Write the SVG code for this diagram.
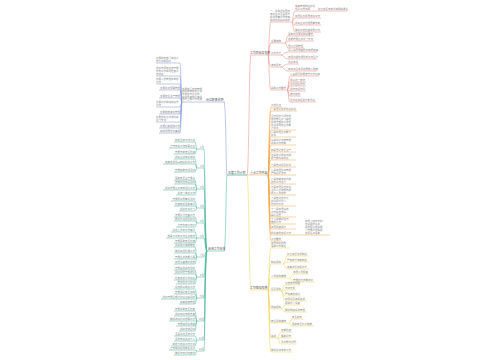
<svg xmlns="http://www.w3.org/2000/svg" width="500" height="360" viewBox="0 0 500 360">
<style>
text{font-family:"Noto Sans CJK SC","Noto Sans",sans-serif;font-size:2.5px;fill:#8c8c8c}
.n{font-size:2.9px;fill:#555}
.e{text-anchor:end}
path{fill:none;stroke-width:.5}
.r{stroke:#e9857c}.b{stroke:#7f90d6}.t{stroke:#3fb595}.o{stroke:#f2a444}.y{stroke:#f0d048}.k{stroke:#3aa88c;stroke-width:.7}
</style>
<rect width="500" height="360" fill="#fff"/>
<g id="connectors">
<path class="r" d="M247,175C249,175 249,55 251,55"/>
<path class="o" d="M247,175H250"/>
<path class="y" d="M247,175C249,175 249,290 251,290"/>
<path class="b" d="M227,175C226,175 226,102 224,102"/>
<path class="t" d="M227,175C226,175 226,251 224,251"/>
<path class="r" d="M268,55C269,55 269,22 271,22M268,55C269,55 269,43 271,43M268,55H271M268,55C269,55 269,67 271,67M268,55C269,55 269,90 271,90"/>
<path class="r" d="M292,22C293,22 293,11 295,11M292,22C293,22 293,18 295,18M292,22C293,22 293,25 295,25M292,22C293,22 293,32 295,32M315,11H318"/>
<path class="r" d="M285,43C286.5,43 286.5,36 288,36M285,43C286.5,43 286.5,41 288,41M285,43C286.5,43 286.5,48 288,48"/>
<path class="r" d="M281,55C284,55 284,52 288,52M281,55C284,55 284,59 288,59M281,67C284,67 284,64 288,64M281,67C284,67 284,71 288,71"/>
<path class="r" d="M287,90C288.5,90 288.5,76 290,76M287,90C288.5,90 288.5,82 290,82M287,90C288.5,90 288.5,86 290,86M287,90C288.5,90 288.5,91 290,91M287,90C288.5,90 288.5,96 290,96M287,90C288.5,90 288.5,102 290,102"/>
<path class="b" d="M205,102H204M182,102C181,102 181,63 180,63M182,102C181,102 181,76 180,76M182,102C181,102 181,84 180,84M182,102C181,102 181,90 180,90M182,102C181,102 181,98 180,98M182,102C181,102 181,107 180,107M182,102C181,102 181,114 180,114M182,102C181,102 181,122 180,122M182,102C181,102 181,128 180,128M182,102C181,102 181,133 180,133"/>
<path class="t" d="M207,251C205,251 205,149 204,149M207,251C205,251 205,168 204,168M207,251C205,251 205,189 204,189M207,251C205,251 205,208 204,208M207,251C205,251 205,223 204,223M207,251C205,251 205,238 204,238M207,251C205,251 205,257 204,257M207,251C205,251 205,277 204,277M207,251C205,251 205,298 204,298M207,251C205,251 205,321 204,321M207,251C205,251 205,340 204,340M207,251C205,251 205,351 204,351"/>
<path class="t" d="M197,149C196,149 196,142 195,142M197,149C196,149 196,148 195,148M197,149C196,149 196,154 195,154M197,168C196,168 196,159 195,159M197,168C196,168 196,164 195,164M197,168C196,168 196,172 195,172M197,189C196,189 196,180 195,180M197,189C196,189 196,184 195,184M197,189C196,189 196,190 195,190M197,189C196,189 196,195 195,195M197,208C196,208 196,201 195,201M197,208C196,208 196,206 195,206M197,208C196,208 196,211 195,211M197,223C196,223 196,217 195,217M197,223C196,223 196,221 195,221M197,223C196,223 196,227 195,227M197,238C196,238 196,232 195,232M197,238C196,238 196,238 195,238M197,238C196,238 196,243 195,243"/>
<path class="t" d="M197,257C196,257 196,247 195,247M197,257C196,257 196,253 195,253M197,257C196,257 196,259 195,259M197,257C196,257 196,264 195,264M197,277C196,277 196,270 195,270M197,277C196,277 196,274 195,274M197,277C196,277 196,280 195,280M197,277C196,277 196,284 195,284M197,298C196,298 196,289 195,289M197,298C196,298 196,294 195,294M197,298C196,298 196,299 195,299M197,298C196,298 196,304 195,304M197,321C196,321 196,311 195,311M197,321C196,321 196,316 195,316M197,321C196,321 196,321 195,321M197,321C196,321 196,326 195,326M197,321C196,321 196,331 195,331M197,340C196,340 196,336 195,336M197,340C196,340 196,341 195,341M197,340C196,340 196,346 195,346M197,351C196,351 196,350 195,350M197,351C196,351 196,355 195,355"/>
<path class="o" d="M268,175C269,175 269,107 271,107M268,175C269,175 269,111 271,111M268,175C269,175 269,130 271,130M268,175C269,175 269,137 271,137M268,175C269,175 269,145 271,145M268,175C269,175 269,152 271,152M268,175C269,175 269,160 271,160M268,175C269,175 269,167 271,167M268,175H271M268,175C269,175 269,184 271,184M268,175C269,175 269,195 271,195M268,175C269,175 269,206 271,206M268,175C269,175 269,217 271,217M268,175C269,175 269,224 271,224M268,175C269,175 269,229 271,229M268,175C269,175 269,235 271,235M268,175C269,175 269,241 271,241M296,235H305"/>
<path class="y" d="M268,290C269,290 269,248 271,248M268,290C269,290 269,264 271,264M268,290C269,290 269,278 271,278M268,290C269,290 269,291 271,291M268,290C269,290 269,309 271,309M268,290C269,290 269,323 271,323M268,290C269,290 269,338 271,338M268,290C269,290 269,352 271,352"/>
<path class="y" d="M283,264C285,264 285,256 287,256M283,264C285,264 285,262 287,262M283,264C285,264 285,269 287,269M290,278C291.5,278 291.5,274 293,274M290,278C291.5,278 291.5,282 293,282M281,291C283,291 283,285 285,285M281,291C283,291 283,290 285,290M281,291C283,291 283,296 285,296M281,291C283,291 283,301 285,301M281,309C283,309 283,305 285,305M281,309C283,309 283,312 285,312M289,323C290.5,323 290.5,319 292,319M289,323C290.5,323 290.5,326 292,326M277,338C279,338 279,332 281,332M277,338C279,338 279,338 281,338M277,338C279,338 279,344 281,344"/>
</g>
<g id="root"><text class="n" x="228" y="174">年度工作计划</text><path class="k" d="M227,175H247"/></g>
<g id="red">
<g id="r0"><text class="n" x="250" y="54">工作目标及措施</text><path class="r" d="M250,55H268"/></g>
<g id="ra"><text x="270" y="12.4">一、总体目标围绕</text><text x="270" y="15.3">年度任务全面提升</text><text x="270" y="18.2">服务质量工作效率</text><text x="270" y="21.1">确保各项指标完成</text><path class="r" d="M270,22H292"/></g>
<g id="ra1"><text x="295" y="7.1">完善管理制度建设</text><text x="295" y="10">规范工作流程</text><path class="r" d="M295,11H315"/></g>
<g id="ra1a"><text x="318" y="10.1">建立健全考核机制明确责任</text><path class="r" d="M318,11H347"/></g>
<g id="ra2"><text x="295" y="17.1">加强队伍素质培训工作</text><path class="r" d="M295,18H321"/></g>
<g id="ra3"><text x="295" y="24.1">提高业务办理质量效率</text><path class="r" d="M295,25H321"/></g>
<g id="ra4"><text x="295" y="31.1">做好日常检查督导工作</text><path class="r" d="M295,32H321"/></g>
<g id="rb"><text x="271" y="42.1">主要措施</text><path class="r" d="M271,43H285"/></g>
<g id="rb1"><text x="288" y="35.1">落实岗位责任制度要求</text><path class="r" d="M288,36H314"/></g>
<g id="rb2"><text x="288" y="40.1">定期开展业务学习交流</text><path class="r" d="M288,41H314"/></g>
<g id="rb3"><text x="288" y="47.1">强化过程管理</text><path class="r" d="M288,48H304"/></g>
<g id="rc"><text x="271" y="54.1">工作方法</text><path class="r" d="M271,55H281"/></g>
<g id="rc1"><text x="288" y="51.1">深入基层调查研究掌握实情</text><path class="r" d="M288,52H317"/></g>
<g id="rc2"><text x="288" y="58.1">加强沟通协调形成工作合力</text><path class="r" d="M288,59H317"/></g>
<g id="rd"><text x="271" y="66.1">考核评价</text><path class="r" d="M271,67H281"/></g>
<g id="rd1"><text x="288" y="63.1">月度考评</text><path class="r" d="M288,64H299"/></g>
<g id="rd2"><text x="288" y="70.1">年终综合考评结果纳入档案</text><path class="r" d="M288,71H317"/></g>
<g id="re"><text x="271" y="89.1">具体工作要求</text><path class="r" d="M271,90H287"/></g>
<g id="re1"><text x="290" y="75.1">认真履行职责遵守工作纪律</text><path class="r" d="M290,76H319"/></g>
<g id="re2"><text x="290" y="81.1">服从统一安排</text><path class="r" d="M290,82H306"/></g>
<g id="re3"><text x="290" y="85.1">注重团队协作</text><path class="r" d="M290,86H306"/></g>
<g id="re4"><text x="290" y="90.1">保持良好作风</text><path class="r" d="M290,91H306"/></g>
<g id="re5"><text x="290" y="95.1">按时完成</text><path class="r" d="M290,96H301"/></g>
<g id="re6"><text x="290" y="101.1">及时总结经验不断改进</text><path class="r" d="M290,102H316"/></g>
</g>
<g id="blue">
<g id="b0"><text class="n" x="206" y="101">岗位职责说明</text><path class="b" d="M205,102H225"/></g>
<g id="bk"><text x="182" y="89.5">负责部门日常管理</text><text x="182" y="92.2">组织实施年度计划</text><text x="182" y="94.9">协调各岗位工作</text><text x="182" y="97.6">监督检查执行情况</text><text x="182" y="100.3">及时上报工作进展</text><path class="b" d="M182,102H204"/></g>
<g id="b1"><text x="156" y="59.1">负责制定部门年度工</text><text x="156" y="62">作计划和目标</text><path class="b" d="M156,63H180"/></g>
<g id="b2"><text x="156" y="69.2">组织协调各科室开展</text><text x="156" y="72.1">日常工作督促检查工</text><text x="156" y="75">作进度</text><path class="b" d="M156,76H180"/></g>
<g id="b3"><text x="156" y="80.1">负责人员管理和考核</text><text x="156" y="83">工作</text><path class="b" d="M156,84H180"/></g>
<g id="b4"><text class="e" x="180" y="89.1">负责财务预算管理</text><path class="b" d="M159,90H180"/></g>
<g id="b5"><text class="e" x="180" y="97.1">负责安全生产管理</text><path class="b" d="M159,98H180"/></g>
<g id="b6"><text x="156" y="103.1">负责对外联络和接待</text><text x="156" y="106">工作</text><path class="b" d="M156,107H180"/></g>
<g id="b7"><text class="e" x="180" y="113.1">负责档案资料管理</text><path class="b" d="M159,114H180"/></g>
<g id="b8"><text x="156" y="118.1">负责组织业务培训和</text><text x="156" y="121">学习交流</text><path class="b" d="M156,122H180"/></g>
<g id="b9"><text class="e" x="180" y="127.1">负责后勤保障工作</text><path class="b" d="M159,128H180"/></g>
<g id="b10"><text class="e" x="180" y="132.1">完成领导交办事项</text><path class="b" d="M159,133H180"/></g>
</g>
<g id="teal">
<g id="t0"><text class="n" x="208" y="250">具体工作安排</text><path class="t" d="M207,251H225"/></g>
<g id="m1"><text class="e" x="204" y="148.1">1月</text><path class="t" d="M197,149H204"/></g>
<g id="m2"><text class="e" x="204" y="167.1">2月</text><path class="t" d="M197,168H204"/></g>
<g id="m3"><text class="e" x="204" y="188.1">3月</text><path class="t" d="M197,189H204"/></g>
<g id="m4"><text class="e" x="204" y="207.1">4月</text><path class="t" d="M197,208H204"/></g>
<g id="m5"><text class="e" x="204" y="222.1">5月</text><path class="t" d="M197,223H204"/></g>
<g id="m6"><text class="e" x="204" y="237.1">6月</text><path class="t" d="M197,238H204"/></g>
<g id="m7"><text class="e" x="204" y="256.1">7月</text><path class="t" d="M197,257H204"/></g>
<g id="m8"><text class="e" x="204" y="276.1">8月</text><path class="t" d="M197,277H204"/></g>
<g id="m9"><text class="e" x="204" y="297.1">9月</text><path class="t" d="M197,298H204"/></g>
<g id="m10"><text class="e" x="204" y="320.1">10月</text><path class="t" d="M197,321H204"/></g>
<g id="m11"><text class="e" x="204" y="339.1">11月</text><path class="t" d="M197,340H204"/></g>
<g id="m12"><text class="e" x="204" y="350.1">12月</text><path class="t" d="M197,351H204"/></g>
<g id="t1a"><text class="e" x="195" y="141.1">制定全年工作计划</text><path class="t" d="M174,142H195"/></g>
<g id="t1b"><text class="e" x="195" y="147.1">召开年度工作部署会议</text><path class="t" d="M169,148H195"/></g>
<g id="t1c"><text class="e" x="195" y="153.1">开展节前安全检查</text><path class="t" d="M174,154H195"/></g>
<g id="t2a"><text class="e" x="195" y="158.1">组织业务知识培训</text><path class="t" d="M174,159H195"/></g>
<g id="t2b"><text class="e" x="195" y="163.1">完善各项规章制度建设工作</text><path class="t" d="M163,164H195"/></g>
<g id="t2c"><text class="e" x="195" y="171.1">开展春季专项活动</text><path class="t" d="M174,172H195"/></g>
<g id="t3a"><text class="e" x="195" y="179.1">落实安全生产责任</text><path class="t" d="M174,180H195"/></g>
<g id="t3b"><text class="e" x="195" y="183.1">开展岗位练兵活动</text><path class="t" d="M174,184H195"/></g>
<g id="t3c"><text class="e" x="195" y="189.1">组织开展业务考核评比工作</text><path class="t" d="M163,190H195"/></g>
<g id="t3d"><text class="e" x="195" y="194.1">总结一季度工作</text><path class="t" d="M176,195H195"/></g>
<g id="t4a"><text class="e" x="195" y="200.1">开展服务质量月活动</text><path class="t" d="M171,201H195"/></g>
<g id="t4b"><text class="e" x="195" y="205.1">检查制度落实情况</text><path class="t" d="M174,206H195"/></g>
<g id="t4c"><text class="e" x="195" y="210.1">组织外出学习</text><path class="t" d="M179,211H195"/></g>
<g id="t5a"><text class="e" x="195" y="216.1">开展防汛准备工作</text><path class="t" d="M174,217H195"/></g>
<g id="t5b"><text class="e" x="195" y="220.1">推进重点项目建设</text><path class="t" d="M174,221H195"/></g>
<g id="t5c"><text class="e" x="195" y="226.1">召开半年工作会</text><path class="t" d="M176,227H195"/></g>
<g id="t6a"><text class="e" x="195" y="231.1">总结上半年工作情况</text><path class="t" d="M171,232H195"/></g>
<g id="t6b"><text class="e" x="195" y="237.1">部署下半年工作任务安排</text><path class="t" d="M166,238H195"/></g>
<g id="t6c"><text class="e" x="195" y="242.1">开展夏季安全检查</text><path class="t" d="M174,243H195"/></g>
<g id="t7a"><text class="e" x="195" y="246.1">组织职工健康体检</text><path class="t" d="M174,247H195"/></g>
<g id="t7b"><text class="e" x="195" y="252.1">做好高温防暑工作</text><path class="t" d="M174,253H195"/></g>
<g id="t7c"><text class="e" x="195" y="258.1">开展业务技能竞赛</text><path class="t" d="M174,259H195"/></g>
<g id="t7d"><text class="e" x="195" y="263.1">加强设备维护保养</text><path class="t" d="M174,264H195"/></g>
<g id="t8a"><text class="e" x="195" y="269.1">开展廉政教育活动</text><path class="t" d="M174,270H195"/></g>
<g id="t8b"><text class="e" x="195" y="273.1">组织中层干部培训</text><path class="t" d="M174,274H195"/></g>
<g id="t8c"><text class="e" x="195" y="279.1">检查各项工作进度</text><path class="t" d="M174,280H195"/></g>
<g id="t8d"><text class="e" x="195" y="283.1">推进信息化建设</text><path class="t" d="M176,284H195"/></g>
<g id="t9a"><text class="e" x="195" y="288.1">总结前三季度工作</text><path class="t" d="M174,289H195"/></g>
<g id="t9b"><text class="e" x="195" y="293.1">开展消防安全演练</text><path class="t" d="M174,294H195"/></g>
<g id="t9c"><text class="e" x="195" y="298.1">组织开展合理化建议征集活动</text><path class="t" d="M161,299H195"/></g>
<g id="t9d"><text class="e" x="195" y="303.1">完善档案管理</text><path class="t" d="M179,304H195"/></g>
<g id="t10a"><text class="e" x="195" y="310.1">开展冬季安全检查</text><path class="t" d="M174,311H195"/></g>
<g id="t10b"><text class="e" x="195" y="315.1">组织年度考核准备</text><path class="t" d="M174,316H195"/></g>
<g id="t10c"><text class="e" x="195" y="320.1">做好年终财务结算工作</text><path class="t" d="M169,321H195"/></g>
<g id="t10d"><text class="e" x="195" y="325.1">开展满意度调查</text><path class="t" d="M176,326H195"/></g>
<g id="t10e"><text class="e" x="195" y="330.1">组织文体活动</text><path class="t" d="M179,331H195"/></g>
<g id="t11a"><text class="e" x="195" y="335.1">全面总结全年工作</text><path class="t" d="M174,336H195"/></g>
<g id="t11b"><text class="e" x="195" y="340.1">评选年度先进个人</text><path class="t" d="M174,341H195"/></g>
<g id="t11c"><text class="e" x="195" y="345.1">制定下年度工作计划</text><path class="t" d="M171,346H195"/></g>
<g id="t12a"><text class="e" x="195" y="349.1">召开年终总结表彰大会</text><path class="t" d="M169,350H195"/></g>
<g id="t12b"><text class="e" x="195" y="354.1">做好节日值班安排</text><path class="t" d="M174,355H195"/></g>
</g>
<g id="orange">
<g id="o0"><text class="n" x="250" y="174">重点工作内容</text><path class="o" d="M250,175H268"/></g>
<g id="o1"><text x="271" y="106.1">工作重点</text><path class="o" d="M271,107H282"/></g>
<g id="o2"><text x="271" y="110.1">一是强化思想政治建设</text><path class="o" d="M271,111H297"/></g>
<g id="o3"><text x="271" y="117.4">坚持党建引领作用</text><text x="271" y="120.3">加强理论学习教育</text><text x="271" y="123.2">提高干部职工思想</text><text x="271" y="126.1">政治素质和业务能</text><text x="271" y="129">力水平</text><path class="o" d="M271,130H296"/></g>
<g id="o4"><text x="271" y="133.1">二是加强业务能力</text><text x="271" y="136">建设</text><path class="o" d="M271,137H296"/></g>
<g id="o5"><text x="271" y="141.1">三是规范内部管理</text><text x="271" y="144">提高工作效率</text><path class="o" d="M271,145H296"/></g>
<g id="o6"><text x="271" y="151.1">四是强化安全生产</text><path class="o" d="M271,152H296"/></g>
<g id="o7"><text x="271" y="156.1">五是优化服务流程</text><text x="271" y="159">提升群众满意度</text><path class="o" d="M271,160H296"/></g>
<g id="o8"><text x="271" y="166.1">六是推进项目建设</text><path class="o" d="M271,167H296"/></g>
<g id="o9"><text x="271" y="171.1">七是加强财务管理</text><text x="271" y="174">严格经费支出</text><path class="o" d="M271,175H296"/></g>
<g id="o10"><text x="271" y="180.1">八是完善考核机制</text><text x="271" y="183">激发工作活力</text><path class="o" d="M271,184H296"/></g>
<g id="o11"><text x="271" y="188.2">九是加强队伍建设</text><text x="271" y="191.1">注重人才培养选拔</text><text x="271" y="194">优化人员结构</text><path class="o" d="M271,195H296"/></g>
<g id="o12"><text x="271" y="199.2">十是推进信息化</text><text x="271" y="202.1">建设提升办公</text><text x="271" y="205">自动化水平</text><path class="o" d="M271,206H296"/></g>
<g id="o13"><text x="271" y="210.2">十一是加强宣传</text><text x="271" y="213.1">工作营造良好</text><text x="271" y="216">舆论氛围</text><path class="o" d="M271,217H296"/></g>
<g id="o14"><text x="271" y="220.1">十二是做好信访</text><text x="271" y="223">维稳工作</text><path class="o" d="M271,224H296"/></g>
<g id="o15"><text x="271" y="228.1">加强督查督办</text><path class="o" d="M271,229H296"/></g>
<g id="o16"><text x="271" y="234.1">抓好其他各项工作</text><path class="o" d="M271,235H296"/></g>
<g id="o16a"><text x="305" y="222.4">完成上级交办的</text><text x="305" y="225.3">各项临时任务</text><text x="305" y="228.2">积极配合相关部</text><text x="305" y="231.1">门开展工作确保</text><text x="305" y="234">各项任务落实</text><path class="o" d="M305,235H330"/></g>
<g id="o17"><text x="271" y="240.1">工作要求</text><path class="o" d="M271,241H282"/></g>
</g>
<g id="yellow">
<g id="y0"><text class="n" x="250" y="289">工作保障措施</text><path class="y" d="M250,290H268"/></g>
<g id="y1"><text x="271" y="244.1">加强组织领导</text><text x="271" y="247">落实工作责任</text><path class="y" d="M271,248H290"/></g>
<g id="y2"><text x="271" y="263.1">制度保障</text><path class="y" d="M271,264H283"/></g>
<g id="y2a"><text x="287" y="255.1">建立健全各项制度</text><path class="y" d="M287,256H309"/></g>
<g id="y2b"><text x="287" y="261.1">严格执行考勤制度</text><path class="y" d="M287,262H309"/></g>
<g id="y2c"><text x="287" y="268.1">完善奖惩激励办法</text><path class="y" d="M287,269H309"/></g>
<g id="y3"><text x="271" y="277.1">人员保障措施</text><path class="y" d="M271,278H290"/></g>
<g id="y3a"><text x="293" y="273.1">加强人员配备</text><path class="y" d="M293,274H309"/></g>
<g id="y3b"><text x="293" y="281.1">开展岗位技能培训</text><path class="y" d="M293,282H315"/></g>
<g id="y4"><text x="271" y="290.1">经费保障</text><path class="y" d="M271,291H281"/></g>
<g id="y4a"><text x="285" y="284.1">合理安排预算</text><path class="y" d="M285,285H301"/></g>
<g id="y4b"><text x="285" y="289.1">专款专用</text><path class="y" d="M285,290H296"/></g>
<g id="y4c"><text x="285" y="295.1">严格审批程序</text><path class="y" d="M285,296H301"/></g>
<g id="y4d"><text x="285" y="300.1">加强经费使用监督</text><path class="y" d="M285,301H307"/></g>
<g id="y5"><text x="271" y="308.1">物资保障</text><path class="y" d="M271,309H281"/></g>
<g id="y5a"><text x="285" y="304.1">保障办公设备</text><path class="y" d="M285,305H301"/></g>
<g id="y5b"><text x="285" y="311.1">做好物资采购管理</text><path class="y" d="M285,312H307"/></g>
<g id="y6"><text x="271" y="322.1">安全保障措施</text><path class="y" d="M271,323H289"/></g>
<g id="y6a"><text x="292" y="318.1">安全教育</text><path class="y" d="M292,319H303"/></g>
<g id="y6b"><text x="292" y="325.1">落实安全防范措施</text><path class="y" d="M292,326H314"/></g>
<g id="y7"><text x="271" y="337.1">监督</text><path class="y" d="M271,338H277"/></g>
<g id="y7a"><text x="281" y="331.1">定期检查</text><path class="y" d="M281,332H292"/></g>
<g id="y7b"><text x="281" y="337.1">跟踪问效</text><path class="y" d="M281,338H292"/></g>
<g id="y7c"><text x="281" y="343.1">及时整改问题</text><path class="y" d="M281,344H297"/></g>
<g id="y8"><text x="271" y="351.1">做好总结考核工作</text><path class="y" d="M271,352H293"/></g>
</g>
</svg>
